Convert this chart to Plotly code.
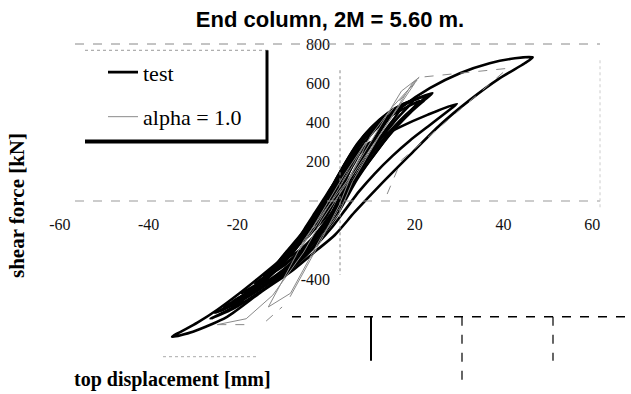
import plotly.graph_objects as go

# ---------------- data ----------------
# test loops (displacement mm, shear force kN)
l1_x = [-6, -4.5, -2.5, -0.5, 1.5, 3.5, 5, 6, 5.5, 4.5, 3, 1.5, 0, -2, -4, -6]
l1_y = [-190, -130, -60, 10, 80, 140, 175, 190, 160, 110, 50, -20, -80, -130, -170, -190]
l1b_x = [-4, -2.5, -1, 0.5, 2, 3.5, 4.5, 3.5, 2.5, 1, -0.5, -2, -4]
l1b_y = [-140, -90, -30, 30, 90, 130, 150, 110, 60, 0, -60, -110, -140]
l2_x = [-10, -7.5, -5, -2.5, 0, 2.5, 5, 7.5, 10, 9, 7.5, 5.5, 3.5, 1.5, -1, -3.5, -6.5, -10]
l2_y = [-300, -240, -160, -80, 0, 90, 180, 250, 300, 260, 200, 120, 40, -50, -130, -200, -260, -300]
l2b_x = [-8, -6, -3.5, -1.5, 0.5, 3, 5.5, 8, 7, 5, 3, 1, -1.5, -4, -8]
l2b_y = [-250, -200, -120, -40, 40, 130, 210, 270, 220, 140, 60, -20, -110, -180, -250]
l3_x = [-14, -11.5, -9, -6, -3, -0.5, 2, 4.5, 7, 10, 13, 12, 10.5, 8.5, 6, 4, 2, -0.5, -3.5, -7, -10.5, -14]
l3_y = [-380, -330, -260, -180, -90, 0, 90, 190, 280, 350, 400, 360, 300, 220, 130, 50, -40, -130, -210, -280, -340, -380]
l3b_x = [-16, -13, -10, -7, -4, -1.5, 1, 3.5, 6, 9, 12, 15, 13.5, 11.5, 9, 7, 5, 3, 0.5, -2.5, -6, -9.5, -13, -16]
l3b_y = [-420, -370, -300, -220, -130, -40, 50, 150, 250, 330, 390, 440, 400, 330, 250, 170, 90, 0, -90, -180, -260, -330, -380, -420]
l4_x = [-19, -16, -13, -10, -6.5, -3.5, -1, 1.5, 4, 7, 10.5, 14, 17,
        16, 14, 11.5, 9, 6.5, 4, 1.5, -1, -4.5, -8, -12, -16, -19]
l4_y = [-470, -430, -370, -290, -200, -110, -20, 80, 180, 290, 380, 440, 480,
        440, 380, 300, 210, 120, 30, -60, -150, -240, -320, -390, -440, -470]
l4b_x = [-21, -18, -14.5, -11, -7.5, -4, -1.5, 1, 3.5, 6.5, 10, 13.5, 17, 20,
         18.5, 16, 13.5, 10.5, 8, 5.5, 3, 0.5, -2.5, -6, -10, -14, -18, -21]
l4b_y = [-510, -470, -410, -330, -240, -140, -50, 50, 150, 260, 360, 430, 480, 520,
         480, 420, 350, 260, 170, 80, -10, -100, -190, -280, -360, -430, -480, -510]
l5_x = [-23, -20, -16, -12, -8, -4.5, -1.5, 1, 3.5, 6.5, 10, 14, 18, 21.5, 24,
        22, 19, 16, 13, 10, 7, 4.5, 2, -1, -4.5, -8.5, -13, -18, -23]
l5_y = [-540, -500, -440, -360, -260, -160, -50, 50, 160, 270, 370, 450, 500, 530, 550,
        510, 450, 380, 300, 210, 110, 10, -90, -180, -270, -350, -420, -490, -540]
l5b_x = [-24, -21, -17, -13, -9, -5.5, -2.5, 0, 2.5, 5.5, 9, 13, 17, 20.5, 23,
         21, 18, 15, 12, 9, 6, 3.5, 1, -2, -5.5, -9.5, -14, -19, -24]
l5b_y = [-560, -520, -460, -380, -290, -190, -90, 10, 120, 230, 340, 430, 490, 520, 540,
         500, 440, 370, 290, 200, 100, 0, -100, -190, -280, -360, -430, -500, -560]
l6_x = [-26, -22, -18, -13.5, -9, -5, -2, 1, 4, 7.5, 12, 17, 23, 29.5,
        27, 23, 19, 15, 11, 7.5, 4.5, 1.5, -2, -6, -11, -16, -21, -26]
l6_y = [-600, -555, -490, -400, -300, -190, -80, 30, 140, 240, 320, 380, 440, 495,
        450, 380, 310, 230, 140, 50, -40, -130, -220, -310, -400, -480, -550, -600]
l6b_x = [-25, -21.5, -17, -12.5, -8.5, -5, -2, 0.5, 3, 6, 9.5, 13.5, 17.5, 21,
         19.5, 17, 14, 11, 8, 5, 2.5, -0.5, -4, -8, -12.5, -17, -21, -25]
l6b_y = [-570, -530, -460, -380, -290, -190, -90, 10, 120, 230, 340, 420, 470, 510,
         470, 410, 330, 240, 150, 50, -40, -140, -240, -330, -410, -480, -530, -570]
l7_x = [-34.7, -29, -24.5, -19.5, -14.9, -11, -7.4, -3.6, 0.2, 3.8, 7, 11, 16.7, 23.4, 30.2, 36.9, 42.6, 46.6,
        44.8, 39.2, 32.4, 25.7, 18.9, 12.2, 6.5, 2, -2, -7.4, -14.9, -22.3, -30, -34.7]
l7_y = [-692, -620, -554, -470, -387, -315, -249, -148, -10, 122, 244, 361, 473, 575, 651, 702, 727, 732,
        702, 626, 514, 387, 234, 81, -56, -173, -249, -351, -468, -590, -666, -692]

# model (alpha = 1.0) branches
g1_x = [-13, -8, -1, 3, 6, 12, 19.5, 21, 17, 10, 5, 0, -5, -8, -13]
g1_y = [-540, -470, -180, -60, 100, 330, 600, 630, 560, 300, 110, -40, -200, -330, -540]
g2_x = [-8.1, -0.7, 3, 6, 10, 15, 20.5]
g2_y = [-488, -183, -20, 150, 330, 480, 615]
g3_x = [20, 14, 8, 3, -1, -5, -12, -18, -24.5]
g3_y = [600, 400, 200, 40, -100, -260, -480, -600, -630]
g4_x = [-6, -1, 4, 9, 6, 2, -2, -6]
g4_y = [-250, -60, 130, 300, 180, 30, -120, -250]
gd1_x = [14, 21, 41, 30, 17, 13.5]
gd1_y = [440, 630, 676, 460, 208, 20]
gd2_x = [-24.5, -16.4]
gd2_y = [-630, -630]
gd3_x = [-13.5, -9.9]
gd3_y = [-612, -540]

x_ticks = [-60, -40, -20, 20, 40, 60]
x_ticktext = ["-60", "-40", "-20", "20", "40", "60"]
y_ticks = [-400, 200, 400, 600, 800]
y_ticktext = ["-400", "200", "400", "600", "800"]


def join(pairs):
    xs, ys = [], []
    for px, py in pairs:
        xs += list(px) + [None]
        ys += list(py) + [None]
    return xs, ys


tx, ty = join([(l1_x, l1_y), (l1b_x, l1b_y), (l2_x, l2_y), (l2b_x, l2b_y),
               (l3_x, l3_y), (l3b_x, l3b_y), (l4_x, l4_y), (l4b_x, l4b_y),
               (l5_x, l5_y), (l5b_x, l5b_y), (l6_x, l6_y), (l6b_x, l6b_y), (l7_x, l7_y)])
gx, gy = join([(g1_x, g1_y), (g2_x, g2_y), (g3_x, g3_y), (g4_x, g4_y)])
dx, dy = join([(gd1_x, gd1_y), (gd2_x, gd2_y), (gd3_x, gd3_y)])

fig = go.Figure()
fig.add_trace(go.Scatter(x=tx, y=ty, mode="lines", name="test",
                         line=dict(color="black", width=2.6, shape="spline", smoothing=0.7),
                         legendgroup="a"))
fig.add_trace(go.Scatter(x=gx, y=gy, mode="lines", name="alpha = 1.0",
                         line=dict(color="#8a8a8a", width=1),
                         legendgroup="b"))
fig.add_trace(go.Scatter(x=dx, y=dy, mode="lines", showlegend=False,
                         line=dict(color="#8a8a8a", width=1, dash="dash")))

serif = "Liberation Serif, Times New Roman, serif"


def pxx(p):
    return (p - 51) / 550.0


def pyy(p):
    return (358.3 - p) / 314.6


shapes = [
    # frame remnants
    dict(type="line", xref="paper", yref="paper", x0=pxx(75), x1=pxx(600), y0=1, y1=1,
         line=dict(color="#888", width=1, dash="dash")),
    dict(type="line", xref="paper", yref="paper", x0=pxx(75), x1=pxx(600), y0=0.5, y1=0.5,
         line=dict(color="#999", width=1, dash="dash")),
    dict(type="line", xref="paper", yref="paper", x0=pxx(163), x1=pxx(258), y0=pyy(357), y1=pyy(357),
         line=dict(color="#aaa", width=1, dash="dot")),
    dict(type="line", xref="paper", yref="paper", x0=pxx(600), x1=pxx(600), y0=pyy(60), y1=pyy(210),
         line=dict(color="#ccc", width=1, dash="dot")),
    dict(type="line", xref="paper", yref="paper", x0=pxx(340), x1=pxx(340), y0=pyy(70), y1=pyy(275),
         line=dict(color="#888", width=1, dash="dot")),
    # legend box
    dict(type="line", xref="paper", yref="paper", x0=pxx(85), x1=pxx(268), y0=pyy(50), y1=pyy(50),
         line=dict(color="#999", width=1, dash="dot")),
    dict(type="line", xref="paper", yref="paper", x0=pxx(267), x1=pxx(267), y0=pyy(50), y1=pyy(143),
         line=dict(color="black", width=3)),
    dict(type="line", xref="paper", yref="paper", x0=pxx(85), x1=pxx(268), y0=pyy(141.5), y1=pyy(141.5),
         line=dict(color="black", width=4)),
    # structure sketch
    dict(type="line", xref="paper", yref="paper", x0=pxx(292), x1=pxx(631), y0=pyy(317), y1=pyy(317),
         line=dict(color="black", width=1.5, dash="dash")),
    dict(type="line", xref="paper", yref="paper", x0=pxx(371), x1=pxx(371), y0=pyy(317), y1=pyy(361),
         line=dict(color="black", width=2)),
    dict(type="line", xref="paper", yref="paper", x0=pxx(462), x1=pxx(462), y0=pyy(317), y1=pyy(383),
         line=dict(color="black", width=1.2, dash="dash")),
    dict(type="line", xref="paper", yref="paper", x0=pxx(553), x1=pxx(553), y0=pyy(317), y1=pyy(361),
         line=dict(color="black", width=1.2, dash="dash")),
]

fig.update_layout(
    width=631, height=394,
    margin=dict(l=51, r=30, t=44, b=36, autoexpand=False),
    paper_bgcolor="white", plot_bgcolor="white",
    title=dict(text="<b>End column, 2M = 5.60 m.</b>", x=330 / 631, xref="container", xanchor="center",
               y=1 - 19 / 394, yref="container", yanchor="middle",
               font=dict(family="Liberation Sans, Arial, sans-serif", size=22, color="black")),
    xaxis=dict(range=[-62, 62], anchor="free", position=0.5, showgrid=False, zeroline=False,
               automargin=False, showline=False, tickvals=x_ticks, ticktext=x_ticktext,
               ticks="outside", ticklen=9, tickcolor="rgba(0,0,0,0)",
               tickfont=dict(family=serif, size=16, color="#111")),
    yaxis=dict(range=[-800, 800], anchor="free", position=pxx(330), showgrid=False, zeroline=False,
               automargin=False, showline=False, tickvals=y_ticks, ticktext=y_ticktext, ticks="",
               tickfont=dict(family=serif, size=16, color="#111")),
    showlegend=True,
    legend=dict(x=pxx(103), y=pyy(51), xanchor="left", yanchor="top",
                bgcolor="rgba(0,0,0,0)", borderwidth=0,
                traceorder="grouped", tracegroupgap=13,
                font=dict(family=serif, size=22, color="black")),
    shapes=shapes,
    annotations=[
        dict(text="<b>top displacement [mm]</b>", xref="paper", yref="paper",
             x=pxx(172), y=pyy(380), showarrow=False, xanchor="center", yanchor="middle",
             font=dict(family=serif, size=20, color="black")),
        dict(text="<b>shear force [kN]</b>", xref="paper", yref="paper", textangle=-90,
             x=pxx(17), y=pyy(206), showarrow=False, xanchor="center", yanchor="middle",
             font=dict(family=serif, size=21, color="black")),
    ],
)

fig.write_html("out.html", config={"displayModeBar": False},
               post_script="document.body.style.margin='0px';document.body.style.padding='0px';")
